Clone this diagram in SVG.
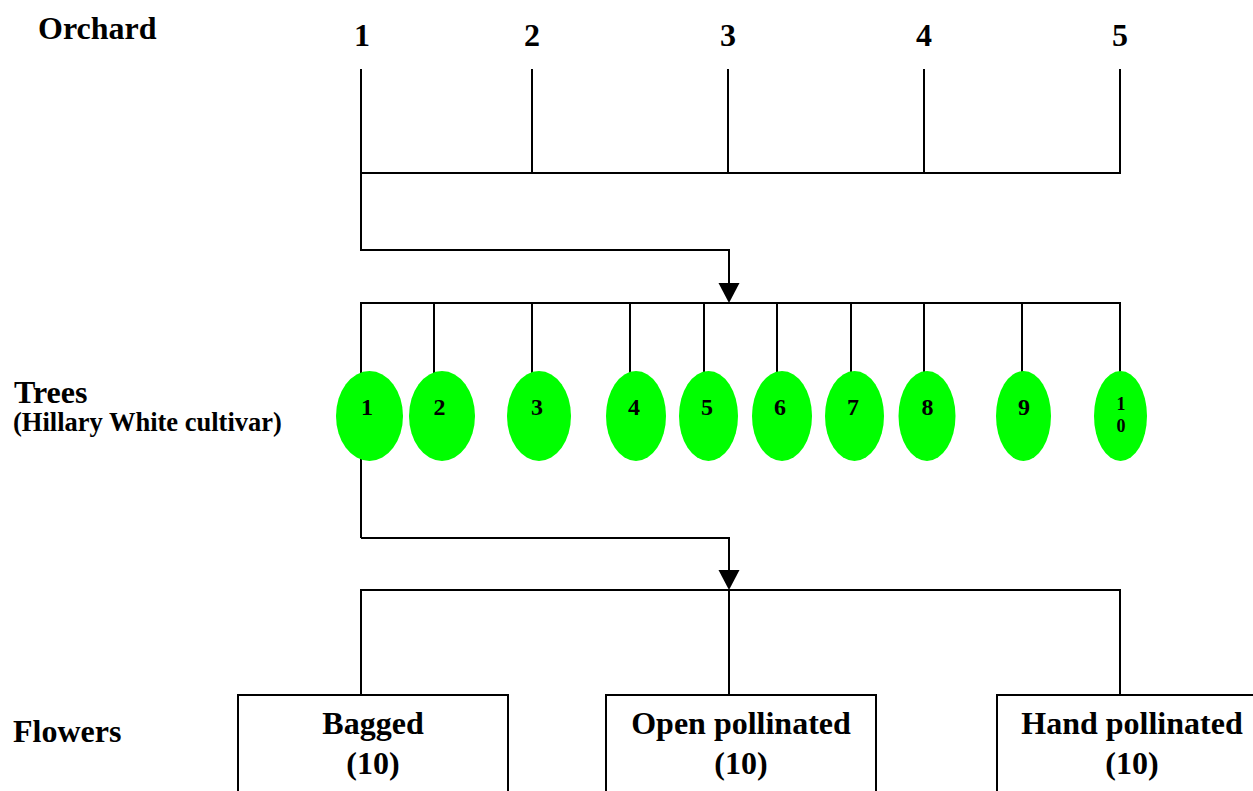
<svg xmlns="http://www.w3.org/2000/svg" width="1253" height="791" viewBox="0 0 1253 791">
<defs>
<style>
.t{font-family:"Liberation Serif","Times New Roman",serif;font-weight:bold;fill:#000}
.c{stroke:#000;stroke-width:2;fill:none}
.tree{fill:#00ff00}
.box{fill:#fff;stroke:#000;stroke-width:2}
.ah{fill:#000}
</style>
</defs>
<rect width="1253" height="791" fill="#fff"/>
<g id="labels">
<text class="t" x="38" y="39" font-size="32">Orchard</text>
<text class="t" x="14" y="403" font-size="32">Trees</text>
<text class="t" x="13" y="431" font-size="26.5">(Hillary White cultivar)</text>
<text class="t" x="13" y="742" font-size="32">Flowers</text>
</g>
<g id="connectors">
<path class="c" d="M361,69V173M532,69V173M728,69V173M924,69V173M1120,69V173M360,173H1121"/>
<path class="c" d="M361,173V250H729V284"/>
<polygon class="ah" points="718.5,283 739.5,283 729,303"/>
<path class="c" d="M360,303H1121M361,303V538M434,303V380M532,303V380M630,303V380M704,303V380M777,303V380M851,303V380M924,303V380M1022,303V380M1120,303V380"/>
<path class="c" d="M361,538H729V571"/>
<polygon class="ah" points="718.5,570 739.5,570 729,590"/>
<path class="c" d="M360,590H1121M361,590V695M729,590V695M1120,590V695"/>
</g>
<g id="orchards">
<g id="orchard-1"><text class="t" x="362" y="46" font-size="32" text-anchor="middle">1</text></g>
<g id="orchard-2"><text class="t" x="532" y="46" font-size="32" text-anchor="middle">2</text></g>
<g id="orchard-3"><text class="t" x="728" y="46" font-size="32" text-anchor="middle">3</text></g>
<g id="orchard-4"><text class="t" x="924" y="46" font-size="32" text-anchor="middle">4</text></g>
<g id="orchard-5"><text class="t" x="1120" y="46" font-size="32" text-anchor="middle">5</text></g>
</g>
<g id="trees">
<g id="tree-1"><ellipse class="tree" cx="369.5" cy="416" rx="33.5" ry="45"/><text class="t" x="367" y="415" font-size="24" text-anchor="middle">1</text></g>
<g id="tree-2"><ellipse class="tree" cx="442" cy="416" rx="33" ry="45"/><text class="t" x="439.5" y="415" font-size="24" text-anchor="middle">2</text></g>
<g id="tree-3"><ellipse class="tree" cx="539" cy="416" rx="32" ry="45"/><text class="t" x="537" y="415" font-size="24" text-anchor="middle">3</text></g>
<g id="tree-4"><ellipse class="tree" cx="636" cy="416" rx="30" ry="45"/><text class="t" x="634" y="415" font-size="24" text-anchor="middle">4</text></g>
<g id="tree-5"><ellipse class="tree" cx="708.5" cy="416" rx="29.5" ry="45"/><text class="t" x="707" y="415" font-size="24" text-anchor="middle">5</text></g>
<g id="tree-6"><ellipse class="tree" cx="782" cy="416" rx="30" ry="45"/><text class="t" x="780" y="415" font-size="24" text-anchor="middle">6</text></g>
<g id="tree-7"><ellipse class="tree" cx="854.5" cy="416" rx="29.5" ry="45"/><text class="t" x="853" y="415" font-size="24" text-anchor="middle">7</text></g>
<g id="tree-8"><ellipse class="tree" cx="927" cy="416" rx="28.5" ry="45"/><text class="t" x="927.5" y="415" font-size="24" text-anchor="middle">8</text></g>
<g id="tree-9"><ellipse class="tree" cx="1023.5" cy="416" rx="27.5" ry="45"/><text class="t" x="1024" y="415" font-size="24" text-anchor="middle">9</text></g>
<g id="tree-10"><ellipse class="tree" cx="1120.5" cy="416" rx="26.5" ry="45"/><text class="t" x="1121" y="410" font-size="18" text-anchor="middle">1</text><text class="t" x="1121" y="432" font-size="18" text-anchor="middle">0</text></g>
</g>
<g id="flowers">
<g id="bagged"><rect class="box" x="238" y="695" width="270" height="120"/><text class="t" x="373" y="734" font-size="32" text-anchor="middle">Bagged</text><text class="t" x="373" y="774" font-size="32" text-anchor="middle">(10)</text></g>
<g id="open"><rect class="box" x="606" y="695" width="270" height="120"/><text class="t" x="741" y="734" font-size="32" text-anchor="middle">Open pollinated</text><text class="t" x="741" y="774" font-size="32" text-anchor="middle">(10)</text></g>
<g id="hand"><rect class="box" x="997" y="695" width="270" height="120"/><text class="t" x="1132" y="734" font-size="32" text-anchor="middle">Hand pollinated</text><text class="t" x="1132" y="774" font-size="32" text-anchor="middle">(10)</text></g>
</g>
</svg>
